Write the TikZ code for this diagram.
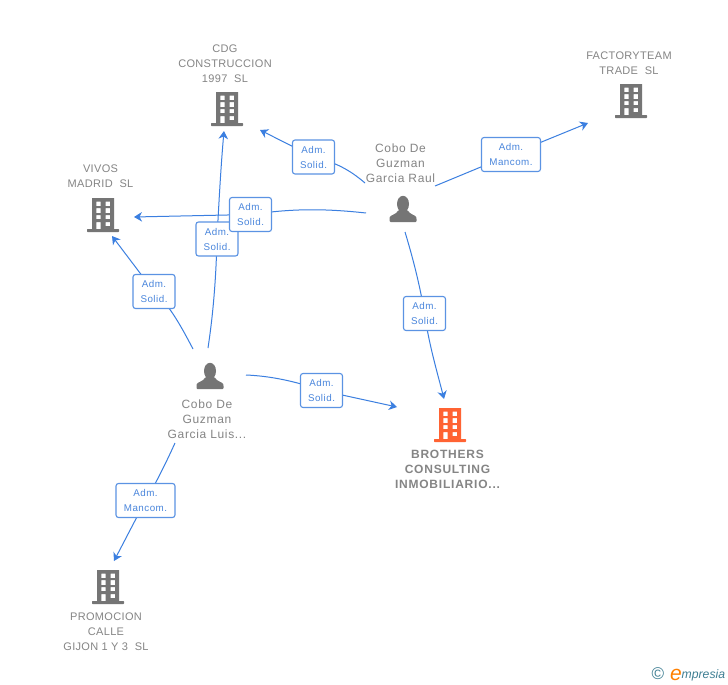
\documentclass[tikz,border=0pt]{standalone}
\usepackage{fontspec}
\setmainfont{Liberation Sans}
\newfontfamily\entityfont[LetterSpace=3]{Liberation Sans}
\newfontfamily\humanfont[LetterSpace=5.5]{Liberation Sans}
\newfontfamily\boldfont[LetterSpace=6.5]{Liberation Sans}
\newfontfamily\rolefont[LetterSpace=5]{Liberation Sans}
\usetikzlibrary{arrows.meta,backgrounds}
\definecolor{linkblue}{HTML}{3B7FE0}
\definecolor{boxblue}{HTML}{5B93E3}
\definecolor{txtblue}{HTML}{4A86DC}
\definecolor{iconGrey}{HTML}{757575}
\definecolor{nameGrey}{HTML}{858585}
\definecolor{hot}{HTML}{FF6333}
\definecolor{markteal}{HTML}{3F7F93}
\tikzset{
  x=1pt,y=-1pt,
  link/.style={draw=linkblue,line width=1pt},
  tipped/.style={link,-{Stealth[length=8pt,width=9.5pt,inset=2.5pt]}},
  rolebox/.style={draw=boxblue,line width=1.1pt,fill=white,rounded corners=2.5pt,text=txtblue,font=\rolefont\fontsize{9.8}{15}\selectfont,align=center,minimum width=42pt,minimum height=34pt,inner sep=0pt},
  entity/.style={text=nameGrey,font=\entityfont\fontsize{11}{15}\selectfont,align=center,inner sep=0pt},
  human/.style={text=nameGrey,font=\humanfont\fontsize{12}{15}\selectfont,align=center,inner sep=0pt},
  boldentity/.style={text=nameGrey,font=\boldfont\bfseries\fontsize{12}{15}\selectfont,align=center,inner sep=0pt},
  pics/tower/.style={code={
    \fill[#1,even odd rule]
      (-11,0) rectangle (11,32)
      (-6.7,3.7) rectangle (-2.5,8) (2.5,3.7) rectangle (7,8)
      (-6.7,10) rectangle (-2.5,15) (2.5,10) rectangle (7,15)
      (-6.7,17) rectangle (-2.5,21) (2.5,17) rectangle (7,21)
      (-6.7,24) rectangle (-2.5,31.5) (2.5,24) rectangle (7,28);
    \fill[#1,rounded corners=0.6pt] (-16,31) rectangle (16,34);
  }},
  pics/person/.style={code={
    \fill[iconGrey] (0,8) ellipse (6 and 8.2);
    \fill[iconGrey,rounded corners=1pt] (-13.5,26) -- (-13.5,22) .. controls (-12.5,19) and (-7,18.5) .. (-4.5,14) -- (4.5,14) .. controls (7,18.5) and (12.5,19) .. (13.5,22) -- (13.5,26) -- cycle;
  }}
}
\begin{document}
\begin{tikzpicture}
\useasboundingbox (0,0) rectangle (728,685);
% free ends
\coordinate (r1) at (365,183); \coordinate (t1) at (260,130);
\coordinate (r2) at (435,186); \coordinate (t2) at (588,123);
\coordinate (r3) at (366,213); \coordinate (t3) at (134,217);
\coordinate (r4) at (405,232); \coordinate (t4) at (444,399);
\coordinate (l1) at (208,348); \coordinate (t5) at (224,131);
\coordinate (l2) at (193,349); \coordinate (t6) at (112,236);
\coordinate (l3) at (246,375); \coordinate (t7) at (397,407);
\coordinate (l4) at (175,443); \coordinate (t8) at (114,561);
% role boxes
\node[rolebox] (b5) at (217,239) {Adm.\\Solid.};
\node[rolebox] (b3) at (250.5,214.5) {Adm.\\Solid.};
\node[rolebox] (b1) at (313.5,157) {Adm.\\Solid.};
\node[rolebox,minimum width=59pt] (b2) at (511,154.5) {Adm.\\Mancom.};
\node[rolebox] (b4) at (424.5,313.5) {Adm.\\Solid.};
\node[rolebox] (b6) at (154,291.5) {Adm.\\Solid.};
\node[rolebox] (b7) at (321.5,390.5) {Adm.\\Solid.};
\node[rolebox,minimum width=59pt] (b8) at (145.5,500.5) {Adm.\\Mancom.};
% connectors
\begin{scope}[on background layer]
\fill[white] (0,0) rectangle (728,685);
\draw[link] (l1) .. controls (213,315) and (216,280) .. (b5.center);
\draw[tipped] (b5.center) .. controls (219,200) and (221,165) .. (t5);
\draw[link] (r3) .. controls (320,208) and (290,209) .. (b3.center);
\draw[tipped] (b3.center) -- (t3);
\draw[link] (r1) .. controls (350,170) and (335,162) .. (b1.center);
\draw[tipped] (b1.center) -- (t1);
\draw[link] (r2) -- (b2.center);
\draw[tipped] (b2.center) -- (t2);
\draw[link] (r4) .. controls (412,255) and (420,285) .. (b4.center);
\draw[tipped] (b4.center) .. controls (429,345) and (438,375) .. (t4);
\draw[link] (l2) .. controls (183,330) and (170,305) .. (b6.center);
\draw[tipped] (b6.center) -- (t6);
\draw[link] (l3) .. controls (270,376) and (295,381) .. (b7.center);
\draw[tipped] (b7.center) -- (t7);
\draw[link] (l4) .. controls (165,465) and (155,485) .. (b8.center);
\draw[tipped] (b8.center) -- (t8);
\end{scope}
% icons
\pic at (227,92) {tower=iconGrey};
\pic at (631,84) {tower=iconGrey};
\pic at (103,198) {tower=iconGrey};
\pic at (450,408) {tower=hot};
\pic at (108,570) {tower=iconGrey};
\pic at (403,196) {person};
\pic at (210,363) {person};
% labels
\node[entity] (cdg) at (225,63.5) {CDG\\CONSTRUCCION\\1997\ \ SL};
\node[entity] (fac) at (629,63) {FACTORYTEAM\\TRADE\ \ SL};
\node[entity] (viv) at (100.5,176.5) {VIVOS\\MADRID\ \ SL};
\node[human] (raul) at (400.5,163) {Cobo De\\Guzman\\Garcia Raul};
\node[human] (luis) at (207,419) {Cobo De\\Guzman\\Garcia Luis...};
\node[boldentity] (bro) at (447.5,469) {BROTHERS\\CONSULTING\\INMOBILIARIO...};
\node[entity] (pro) at (106,631.5) {PROMOCION\\CALLE\\GIJON 1 Y 3\ \ SL};
% mark
\node[inner sep=0pt,text=markteal,font=\fontsize{17}{17}\selectfont] (copy) at (658,674) {©};
\node[inner sep=0pt,anchor=base west,text=orange,font=\itshape\fontsize{21}{21}\selectfont] (ee) at (670,680) {e};
\node[inner sep=0pt,anchor=base west,text=markteal,font=\itshape\fontsize{12.2}{12}\selectfont] (mark) at (681.5,678.5) {mpresia};
\end{tikzpicture}
\end{document}
